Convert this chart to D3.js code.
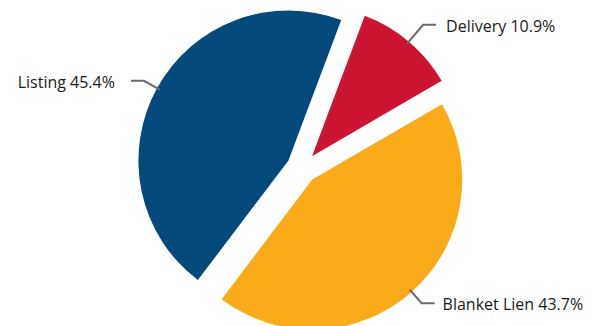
<!DOCTYPE html>
<html>
<head>
<meta charset="utf-8">
<script src="https://cdn.jsdelivr.net/npm/d3@7"></script>
<style>
  html, body { margin: 0; padding: 0; background: #ffffff; }
  svg { display: block; }
</style>
</head>
<body>
<svg id="chart" width="597" height="326"></svg>
<script>
// Share of lien filings by type
const categories = ["Delivery", "Blanket Lien", "Listing"];
const shares = [10.9, 43.7, 45.4];
const colors = ["#cc1433", "#f9ab19", "#03497b"];

const width = 597, height = 326;
const cx = 302, cy = 168;
const radius = 150;
const explode = 15.5;
const startDeg = 20.6;
const fontSize = 16;

// how far past the rim each leader line bends
const elbowExtra = { "Delivery": 22, "Blanket Lien": 15, "Listing": 15 };
// space between the end of a leader line and its label
const textGap = { "Delivery": 10, "Blanket Lien": 8, "Listing": 16 };

const svg = d3.select("#chart");
const g = svg.append("g").attr("transform", `translate(${cx},${cy})`);

const pie = d3.pie()
  .sort(null)
  .value(d => d.value)
  .startAngle(startDeg * Math.PI / 180)
  .endAngle(startDeg * Math.PI / 180 + 2 * Math.PI);

const data = categories.map((c, i) => ({ name: c, value: shares[i], color: colors[i] }));
const arcs = pie(data);

const arc = d3.arc().innerRadius(0).outerRadius(radius);
const innerLabelArc = d3.arc().innerRadius(radius - 3).outerRadius(radius - 3);

// offset of each slice along its bisector
function shift(d) {
  const a = (d.startAngle + d.endAngle) / 2;
  return [Math.sin(a) * explode, -Math.cos(a) * explode];
}

const slices = g.selectAll("g.slice")
  .data(arcs)
  .join("g")
  .attr("class", "slice")
  .attr("transform", d => { const s = shift(d); return `translate(${s[0]},${s[1]})`; });

slices.append("path")
  .attr("d", arc)
  .attr("fill", d => d.data.color);

// leader lines and labels
const leaderLen = 13;
slices.each(function(d) {
  const sel = d3.select(this);
  const a = (d.startAngle + d.endAngle) / 2;
  const right = Math.sin(a) > 0;
  const r2 = radius + elbowExtra[d.data.name];
  const elbowArc = d3.arc().innerRadius(r2).outerRadius(r2);
  const p0 = innerLabelArc.centroid(d);
  const p1 = elbowArc.centroid(d);
  const p2 = [p1[0] + (right ? leaderLen : -leaderLen), p1[1]];
  sel.append("polyline")
    .attr("points", [p0, p1, p2].map(p => p.join(",")).join(" "))
    .attr("fill", "none")
    .attr("stroke", "#6b6b6b")
    .attr("stroke-width", 2);
  const gap = textGap[d.data.name];
  sel.append("text")
    .attr("x", p2[0] + (right ? gap : -gap))
    .attr("y", p2[1] + 1 + fontSize * 0.36)
    .attr("text-anchor", right ? "start" : "end")
    .attr("font-family", "'Open Sans', sans-serif")
    .attr("font-size", fontSize)
    .attr("fill", "#1a1a1a")
    .text(`${d.data.name} ${d3.format(".1f")(d.data.value)}%`);
});
</script>
</body>
</html>
